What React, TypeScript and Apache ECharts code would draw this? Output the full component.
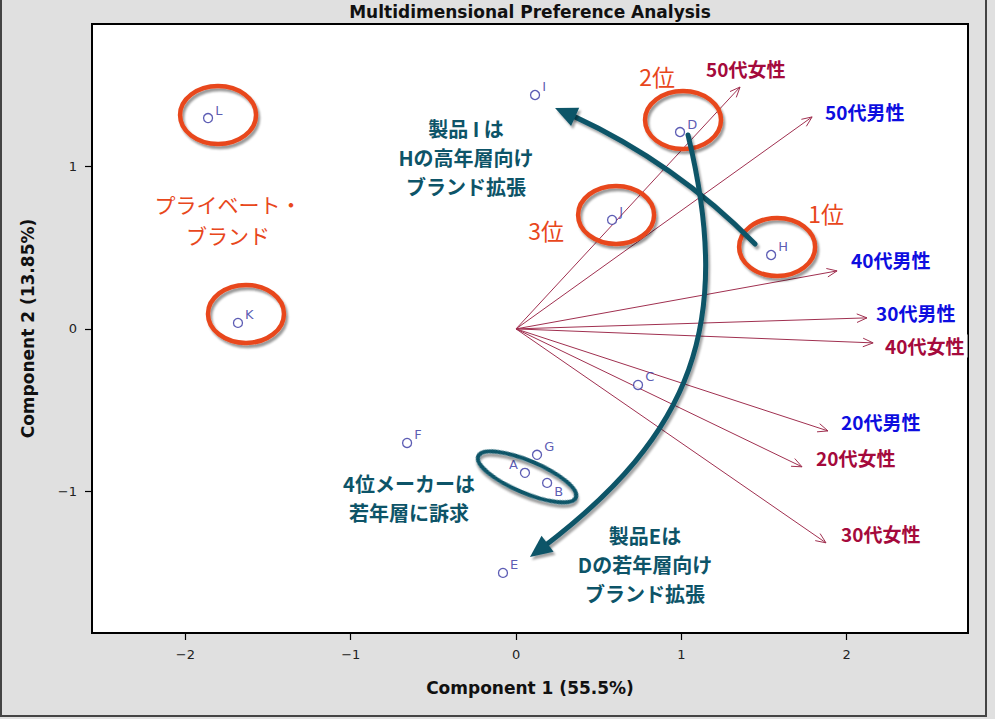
import React, { useEffect, useRef } from 'react';
import * as echarts from 'echarts';

// ---- data ----
const productNames = ['A', 'B', 'C', 'D', 'E', 'F', 'G', 'H', 'I', 'J', 'K', 'L'];
const productX = [0.054, 0.188, 0.738, 0.992, -0.079, -0.659, 0.127, 1.543, 0.115, 0.581, -1.682, -1.863];
const productY = [-0.886, -0.948, -0.345, 1.212, -1.502, -0.702, -0.775, 0.455, 1.44, 0.671, 0.037, 1.298];

const segmentNames = ['50代女性', '50代男性', '40代男性', '30代男性', '40代女性', '20代男性', '20代女性', '30代女性'];
const segmentX = [1.355, 1.791, 1.942, 2.123, 2.16, 1.887, 1.73, 1.875];
const segmentY = [1.489, 1.305, 0.357, 0.068, -0.086, -0.628, -0.849, -1.317];

const xTicks = [-2, -1, 0, 1, 2];
const yTicks = [-1, 0, 1];

const titleText = 'Multidimensional Preference Analysis';
const xName = 'Component 1 (55.5%)';
const yName = 'Component 2 (13.85%)';

// ---- styles / layout ----
const segLabelDx = [-37, 10, 11, 6, 9, 10, 11, 12];
const segLabelDy = [-19, -5, -11, -5, 3, -9, -9, -9];
const VEC = '#a03050';
const FEMALE = '#a50a3c';
const MALE = '#0d0ddf';
const ORANGE = '#e8471c';
const TEAL = '#0d5468';
const PT = '#3232a0';
const CJK = '"Noto Sans CJK JP", "Noto Sans", sans-serif';
const LAT = '"DejaVu Sans", "Liberation Sans", sans-serif';

const fmt = (v: number) => (v < 0 ? '\u2212' + Math.abs(v) : String(v));

type P = [number, number];
const lerp = (a: P, b: P, t: number): P => [a[0] + (b[0] - a[0]) * t, a[1] + (b[1] - a[1]) * t];
const cubicAt = (p0: P, p1: P, p2: P, p3: P, t: number): P => {
  const a = lerp(p0, p1, t), b = lerp(p1, p2, t), c = lerp(p2, p3, t);
  const d = lerp(a, b, t), e = lerp(b, c, t);
  return lerp(d, e, t);
};
const splitCubic = (p0: P, p1: P, p2: P, p3: P, t: number): P[] => {
  const a = lerp(p0, p1, t), b = lerp(p1, p2, t), c = lerp(p2, p3, t);
  const d = lerp(a, b, t), e = lerp(b, c, t);
  const f = lerp(d, e, t);
  return [p0, a, d, f];
};

function curvedArrow(p0: P, p1: P, p2: P, p3: P, headLen: number, headW: number, z: number) {
  let lo = 0, hi = 1;
  for (let k = 0; k < 40; k++) {
    const m = (lo + hi) / 2;
    const q = cubicAt(p0, p1, p2, p3, m);
    const d = Math.hypot(p3[0] - q[0], p3[1] - q[1]);
    if (d > headLen) lo = m; else hi = m;
  }
  const t0 = (lo + hi) / 2;
  const seg = splitCubic(p0, p1, p2, p3, t0 + 0.01);
  const base = cubicAt(p0, p1, p2, p3, t0);
  const dx = p3[0] - base[0], dy = p3[1] - base[1];
  const len = Math.hypot(dx, dy);
  const ux = dx / len, uy = dy / len;
  const nx = -uy, ny = ux;
  const shadow = { shadowColor: 'rgba(0,0,0,0.35)', shadowBlur: 2, shadowOffsetX: 2, shadowOffsetY: 3 };
  return [
    {
      type: 'bezierCurve', z,
      shape: { x1: seg[0][0], y1: seg[0][1], cpx1: seg[1][0], cpy1: seg[1][1], cpx2: seg[2][0], cpy2: seg[2][1], x2: seg[3][0], y2: seg[3][1] },
      style: { stroke: TEAL, lineWidth: 5, fill: null, lineCap: 'round', ...shadow },
    },
    {
      type: 'polygon', z,
      shape: { points: [p3, [base[0] + nx * headW, base[1] + ny * headW], [base[0] - nx * headW, base[1] - ny * headW]] },
      style: { fill: TEAL, ...shadow },
    },
  ];
}

export default function App() {
  const ref = useRef<HTMLDivElement>(null);
  useEffect(() => {
    if (!ref.current) return;
    const chart = echarts.init(ref.current, null, { renderer: 'svg' });
    const axisLabelStyle = { fontSize: 13, color: '#222', fontFamily: LAT };
    const nameStyle = { fontSize: 17, fontWeight: 'bold' as const, color: '#111', fontFamily: LAT };
    chart.setOption({
      animation: false,
      backgroundColor: '#e0e0e0',
      grid: {
        left: 92, top: 24, width: 876, height: 609, show: true,
        backgroundColor: '#fff', borderColor: '#000', borderWidth: 2,
        outerBoundsMode: 'none', containLabel: false,
      },
      xAxis: {
        type: 'value', min: -2.565, max: 2.734,
        splitLine: { show: false },
        axisLine: { show: false, onZero: false },
        axisTick: { show: true, customValues: xTicks, length: 7, lineStyle: { color: '#000', width: 1.2 } },
        axisLabel: { customValues: xTicks, formatter: fmt, margin: 15, ...axisLabelStyle },
        name: xName, nameLocation: 'middle', nameGap: 46, nameTextStyle: nameStyle,
      },
      yAxis: {
        type: 'value', min: -1.872, max: 1.877,
        splitLine: { show: false },
        axisLine: { show: false, onZero: false },
        axisTick: { show: true, customValues: yTicks, length: 7, lineStyle: { color: '#000', width: 1.2 } },
        axisLabel: { customValues: yTicks, formatter: fmt, margin: 15, ...axisLabelStyle },
        name: yName, nameLocation: 'middle', nameGap: 56, nameRotate: 90, nameTextStyle: nameStyle,
      },
      series: [
        {
          type: 'custom',
          z: 3,
          data: segmentNames.map((n, i) => [segmentX[i], segmentY[i], n]),
          renderItem: (params: any, api: any) => {
            const i = params.dataIndex;
            const o = api.coord([0, 0]);
            const t = api.coord([api.value(0), api.value(1)]);
            const ang = Math.atan2(t[1] - o[1], t[0] - o[0]);
            const L = 11, a = 0.4;
            const p1 = [t[0] - L * Math.cos(ang - a), t[1] - L * Math.sin(ang - a)];
            const p2 = [t[0] - L * Math.cos(ang + a), t[1] - L * Math.sin(ang + a)];
            const name = segmentNames[i];
            const col = name.indexOf('女') >= 0 ? FEMALE : MALE;
            return {
              type: 'group',
              children: [
                { type: 'line', shape: { x1: o[0], y1: o[1], x2: t[0], y2: t[1] }, style: { stroke: VEC, lineWidth: 1 } },
                { type: 'polyline', shape: { points: [p1, t, p2] }, style: { stroke: VEC, lineWidth: 1, fill: null } },
                {
                  type: 'text', x: t[0] + segLabelDx[i], y: t[1] + segLabelDy[i],
                  style: {
                    text: name, fill: col, font: `bold 19px ${CJK}`,
                    align: 'left', verticalAlign: 'middle', textAlign: 'left', textVerticalAlign: 'middle',
                    backgroundColor: '#fff', padding: [2, 3],
                  },
                },
              ],
            };
          },
        },
        {
          type: 'scatter',
          z: 4,
          symbol: 'circle',
          symbolSize: 9,
          itemStyle: { color: '#fff', borderColor: PT, borderWidth: 1.3 },
          label: {
            show: true, formatter: '{b}', position: 'right', distance: 2, offset: [0, -8],
            color: PT, fontSize: 13, fontFamily: LAT,
          },
          data: productNames.map((n, i) => {
            const d: any = { name: n, value: [productX[i], productY[i]] };
            if (n === 'A') d.label = { position: 'left', offset: [0, -8] };
            if (n === 'B') d.label = { position: 'right', offset: [0, 9] };
            return d;
          }),
        },
      ],
    });

    const px = (i: number): P => chart.convertToPixel({ gridIndex: 0 } as any, [productX[i], productY[i]]) as P;
    const idx = (n: string) => productNames.indexOf(n);
    const shadow = { shadowColor: 'rgba(0,0,0,0.4)', shadowBlur: 2, shadowOffsetX: 2, shadowOffsetY: 3 };
    const orangeEllipse = (n: string, dx: number, dy: number) => {
      const p = px(idx(n));
      return {
        type: 'ellipse', z: 10,
        shape: { cx: p[0] + dx, cy: p[1] + dy, rx: 38, ry: 29 },
        style: { stroke: ORANGE, lineWidth: 4.5, fill: null, ...shadow },
      };
    };
    const A = px(idx('A')), B = px(idx('B'));
    const abC: P = [(A[0] + B[0]) / 2 - 9, (A[1] + B[1]) / 2 - 1];
    const H = px(idx('H')), I = px(idx('I')), D = px(idx('D')), E = px(idx('E'));

    // H -> I arrow (quadratic, elevated to cubic)
    const s1: P = [H[0] - 16, H[1] - 11];
    const e1: P = [I[0] + 20, I[1] + 13];
    const mid: P = [(s1[0] + e1[0]) / 2, (s1[1] + e1[1]) / 2];
    const ddx = e1[0] - s1[0], ddy = e1[1] - s1[1];
    const dl = Math.hypot(ddx, ddy);
    const perp: P = [-ddy / dl, ddx / dl];
    const q: P = [mid[0] + perp[0] * 24, mid[1] + perp[1] * 24];
    const q1: P = [s1[0] + (2 / 3) * (q[0] - s1[0]), s1[1] + (2 / 3) * (q[1] - s1[1])];
    const q2: P = [e1[0] + (2 / 3) * (q[0] - e1[0]), e1[1] + (2 / 3) * (q[1] - e1[1])];

    // D -> E arrow
    const s2: P = [D[0] + 8, D[1] + 3];
    const e2: P = [E[0] + 27, E[1] - 16];
    const c21: P = [s2[0] + 47, s2[1] + 195];
    const c22: P = [e2[0] + 160, e2[1] - 117];

    const tealText = (text: string, x: number, y: number) => ({
      type: 'text', z: 12, x, y,
      style: {
        text, fill: TEAL, font: `bold 20px ${CJK}`, lineHeight: 29,
        align: 'center', verticalAlign: 'middle', textAlign: 'center', textVerticalAlign: 'middle',
      },
    });
    const orangeText = (text: string, x: number, y: number, size: number) => ({
      type: 'text', z: 12, x, y,
      style: {
        text, fill: ORANGE, font: `${size}px ${CJK}`, lineHeight: 31,
        align: 'center', verticalAlign: 'middle', textAlign: 'center', textVerticalAlign: 'middle',
      },
    });

    chart.setOption({
      graphic: [
        {
          type: 'text', z: 12, x: 530, y: 3,
          style: {
            text: titleText, fill: '#111', font: `bold 17px ${LAT}`,
            align: 'center', verticalAlign: 'top', textAlign: 'center', textVerticalAlign: 'top',
          },
        },
        { type: 'line', z: 1, shape: { x1: 1, y1: 0, x2: 1, y2: 716 }, style: { stroke: '#444', lineWidth: 2 } },
        { type: 'line', z: 1, shape: { x1: 0, y1: 716, x2: 987, y2: 716 }, style: { stroke: '#444', lineWidth: 2 } },
        { type: 'line', z: 1, shape: { x1: 986, y1: 0, x2: 986, y2: 716 }, style: { stroke: '#444', lineWidth: 2 } },
        orangeEllipse('L', 10, -3),
        orangeEllipse('K', 8, -9),
        orangeEllipse('D', 3, -12),
        orangeEllipse('J', 4, -5),
        orangeEllipse('H', 6, -8),
        {
          type: 'ellipse', z: 10, x: abC[0], y: abC[1], rotation: -23 * Math.PI / 180,
          shape: { cx: 0, cy: 0, rx: 53, ry: 16 },
          style: { stroke: TEAL, lineWidth: 4, fill: null, ...shadow },
        },
        ...curvedArrow(s1, q1, q2, e1, 22, 10, 11),
        ...curvedArrow(s2, c21, c22, e2, 22, 10, 11),
        orangeText('2位', D[0] - 23, D[1] - 56, 23),
        orangeText('3位', px(idx('J'))[0] - 66, px(idx('J'))[1] + 10, 23),
        orangeText('1位', H[0] + 55, H[1] - 42, 23),
        orangeText('プライベート・\nブランド', 228, 219, 21),
        tealText('製品 I は\nHの高年層向け\nブランド拡張', 466, 157),
        tealText('4位メーカーは\n若年層に訴求', 409, 498),
        tealText('製品Eは\nDの若年層向け\nブランド拡張', 645, 564),
      ],
    });

    return () => chart.dispose();
  }, []);
  return <div ref={ref} style={{ position: 'fixed', left: 0, top: 0, width: 995, height: 719 }} />;
}
